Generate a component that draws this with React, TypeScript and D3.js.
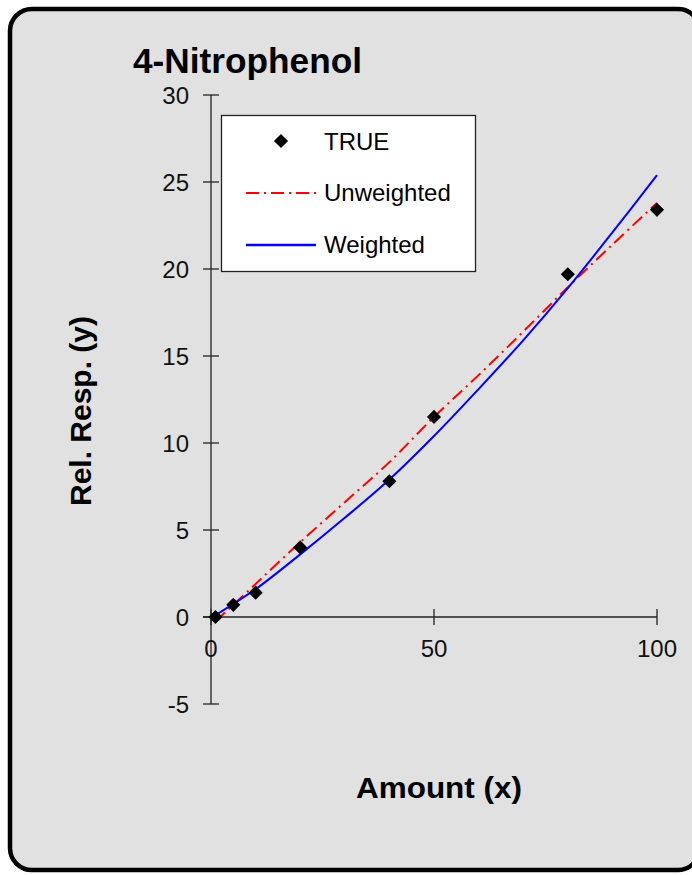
import * as d3 from "d3";

// measured points
const amounts = [1, 5, 10, 20, 40, 50, 80, 100];
const responses = [0, 0.7, 1.4, 4.0, 7.8, 11.5, 19.7, 23.4];

// fitted curves
const fitX = [1, 10, 20, 30, 40, 50, 60, 70, 80, 90, 100];
const unweighted = [-0.25, 1.9, 4.3, 6.6, 8.9, 11.5, 13.9, 16.4, 18.95, 21.4, 23.8];
const weighted = [0.1, 1.6, 3.6, 5.7, 7.9, 10.4, 13.1, 15.9, 18.9, 22.1, 25.4];

const xTicks = [0, 50, 100];
const yTicks = [-5, 0, 5, 10, 15, 20, 25, 30];

const W = 692;
const H = 875;
const FONT = "'Liberation Sans', Arial, sans-serif";

export default function App() {
  const x = d3.scaleLinear().domain([0, 100]).range([211, 657]);
  const y = d3.scaleLinear().domain([-5, 30]).range([704, 95]);

  const line = d3
    .line<[number, number]>()
    .x((d) => x(d[0]))
    .y((d) => y(d[1]))
    .curve(d3.curveCatmullRom);

  const unwPts = fitX.map((v, i) => [v, unweighted[i]] as [number, number]);
  const wPts = fitX.map((v, i) => [v, weighted[i]] as [number, number]);

  const diamond = d3.symbol(d3.symbolSquare, 100)()!;

  return (
    <svg
      width={W}
      height={H}
      style={{ position: "absolute", left: 0, top: 0, background: "#fff" }}
      fontFamily={FONT}
    >
      <rect x={10} y={9} width={690} height={861} rx={22} fill="#e1e1e1" stroke="#000" strokeWidth={4.5} />

      <text x={133} y={73} fontSize={35} fontWeight="bold" textLength={229} lengthAdjust="spacingAndGlyphs">
        4-Nitrophenol
      </text>

      {/* y axis */}
      <line x1={x(0)} x2={x(0)} y1={y(30)} y2={y(-5)} stroke="#222" strokeWidth={1.3} />
      {yTicks.map((t) => (
        <g key={"y" + t}>
          <line x1={x(0) - 8} x2={x(0) + 8} y1={y(t)} y2={y(t)} stroke="#222" strokeWidth={1.3} />
          <text x={189} y={y(t) + 8.5} fontSize={24} textAnchor="end" fill="#111">
            {t}
          </text>
        </g>
      ))}

      {/* x axis */}
      <line x1={x(0) - 8} x2={x(100)} y1={y(0)} y2={y(0)} stroke="#222" strokeWidth={1.3} />
      {xTicks.map((t) => (
        <g key={"x" + t}>
          <line x1={x(t)} x2={x(t)} y1={y(0) - 8} y2={y(0) + 8} stroke="#222" strokeWidth={1.3} />
          <text x={x(t)} y={657} fontSize={24} textAnchor="middle" fill="#111">
            {t}
          </text>
        </g>
      ))}

      <text x={439} y={798} fontSize={30} fontWeight="bold" textAnchor="middle" textLength={166} lengthAdjust="spacingAndGlyphs">
        Amount (x)
      </text>
      <text
        transform={`translate(91,411) rotate(-90)`}
        fontSize={30}
        fontWeight="bold"
        textAnchor="middle"
      >
        Rel. Resp. (y)
      </text>

      {/* fits */}
      <path d={line(unwPts)!} fill="none" stroke="#ff0000" strokeWidth={2} strokeDasharray="13,5,2,5" />
      <path d={line(wPts)!} fill="none" stroke="#0000ff" strokeWidth={2} />

      {/* data */}
      {amounts.map((a, i) => (
        <path
          key={"p" + i}
          d={diamond}
          transform={`translate(${x(a)},${y(responses[i])}) rotate(45)`}
          fill="#000"
        />
      ))}

      {/* legend */}
      <rect x={221.5} y={115.5} width={254} height={156} fill="#fff" stroke="#222" strokeWidth={1.3} />
      <path d={diamond} transform="translate(281,141) rotate(45)" fill="#000" />
      <text x={324} y={150} fontSize={24}>TRUE</text>
      <line x1={246} x2={316} y1={193} y2={193} stroke="#ff0000" strokeWidth={2} strokeDasharray="13,5,2,5" />
      <text x={324} y={201} fontSize={24}>Unweighted</text>
      <line x1={246} x2={316} y1={245} y2={245} stroke="#0000ff" strokeWidth={2.5} />
      <text x={324} y={253} fontSize={24}>Weighted</text>
    </svg>
  );
}
